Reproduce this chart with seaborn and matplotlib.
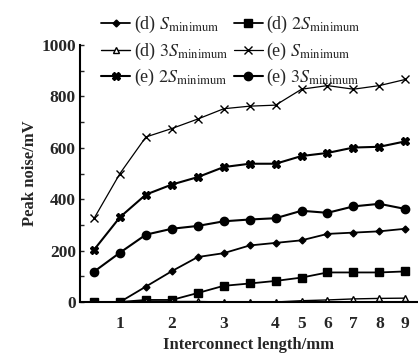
import numpy as np
import pandas as pd
import matplotlib
matplotlib.use("Agg")
import matplotlib.pyplot as plt
import seaborn as sns

lengths = [0.5, 1, 1.5, 2, 2.5, 3, 3.5, 4, 5, 6, 7, 8, 9]
tick_labels = ["1", "2", "3", "4", "5", "6", "7", "8", "9"]

d_S = [0, 0, 60, 120, 175, 190, 220, 230, 240, 265, 270, 275, 285]
d_2S = [0, 0, 8, 8, 35, 63, 72, 82, 95, 115, 115, 115, 119]
d_3S = [0, 0, 2, 2, 2, 0, 0, 0, 5, 8, 12, 14, 15]
e_S = [325, 500, 642, 675, 712, 752, 762, 766, 828, 842, 828, 842, 866]
e_2S = [203, 330, 418, 457, 486, 525, 538, 538, 568, 580, 601, 604, 625]
e_3S = [118, 192, 262, 285, 296, 314, 321, 326, 355, 347, 372, 382, 362]

labels = [r"(d) $S_{\mathrm{minimum}}$", r"(d) $2S_{\mathrm{minimum}}$",
          r"(d) $3S_{\mathrm{minimum}}$", r"(e) $S_{\mathrm{minimum}}$",
          r"(e) $2S_{\mathrm{minimum}}$", r"(e) $3S_{\mathrm{minimum}}$"]

sns.set_theme(style="white")
plt.rcParams['font.family'] = ['Liberation Serif', 'DejaVu Serif']
plt.rcParams['mathtext.fontset'] = 'stix'

fig = plt.figure(figsize=(4.18, 3.59), dpi=100)
ax = fig.add_axes([80/418, 1-302/359, (417-80)/418, (302-45)/359])

xpos = np.arange(len(lengths))
series = [d_S, d_2S, d_3S, e_S, e_2S, e_3S]
styles = [
    dict(marker="D", ms=3.5, lw=1.3, mfc="black"),
    dict(marker="s", ms=5.5, lw=1.3, mfc="black"),
    dict(marker="^", ms=5, lw=1.0, mfc="white"),
    dict(marker="x", ms=6, lw=0.9, mfc="black", mew=1.0),
    dict(marker="X", ms=5.5, lw=1.5, mfc="black"),
    dict(marker="o", ms=6, lw=1.5, mfc="black"),
]
handles = []
for vals, lab, st in zip(series, labels, styles):
    df = pd.DataFrame({"x": xpos, "y": vals})
    sns.lineplot(data=df, x="x", y="y", ax=ax, color="black",
                 marker=st["marker"], markersize=st["ms"], linewidth=st["lw"],
                 markerfacecolor=st["mfc"], markeredgecolor="black",
                 markeredgewidth=st.get("mew", 1.0), label=lab, legend=False)
    handles.append(ax.lines[-1])

ax.set_xlim(-0.54, 12.45)
ax.set_ylim(0, 1000)
tick_pos = [lengths.index(float(t)) for t in tick_labels]
ax.set_xticks(tick_pos)
ax.set_xticklabels(tick_labels)
ax.set_yticks([0, 200, 400, 600, 800, 1000])
ax.set_yticks(np.arange(100, 1000, 200), minor=True)
ax.tick_params(axis="y", which="both", direction="in", length=3, width=1.0,
               left=True, labelsize=12.5, pad=3)
ax.tick_params(axis="x", which="both", bottom=False, labelsize=12.5, pad=4)
for lbl in ax.get_xticklabels() + ax.get_yticklabels():
    lbl.set_fontweight("bold")

for s in ["top", "right"]:
    ax.spines[s].set_visible(False)
for s in ["left", "bottom"]:
    ax.spines[s].set_color("black")
    ax.spines[s].set_linewidth(1.5)

ax.set_xlabel("Interconnect length/mm", fontsize=12, fontweight="bold", labelpad=4)
ax.set_ylabel("Peak noise/mV", fontsize=12, fontweight="bold", labelpad=2)

order = [0, 2, 4, 1, 3, 5]
fig.legend([handles[i] for i in order], [labels[i] for i in order],
           loc="upper left", bbox_to_anchor=(94/418, 1-7/359), ncol=2,
           frameon=False, fontsize=13, handlelength=1.6, handletextpad=0.2,
           columnspacing=0.3, labelspacing=0.3, borderaxespad=0)

fig.savefig("out.png", dpi=100)
